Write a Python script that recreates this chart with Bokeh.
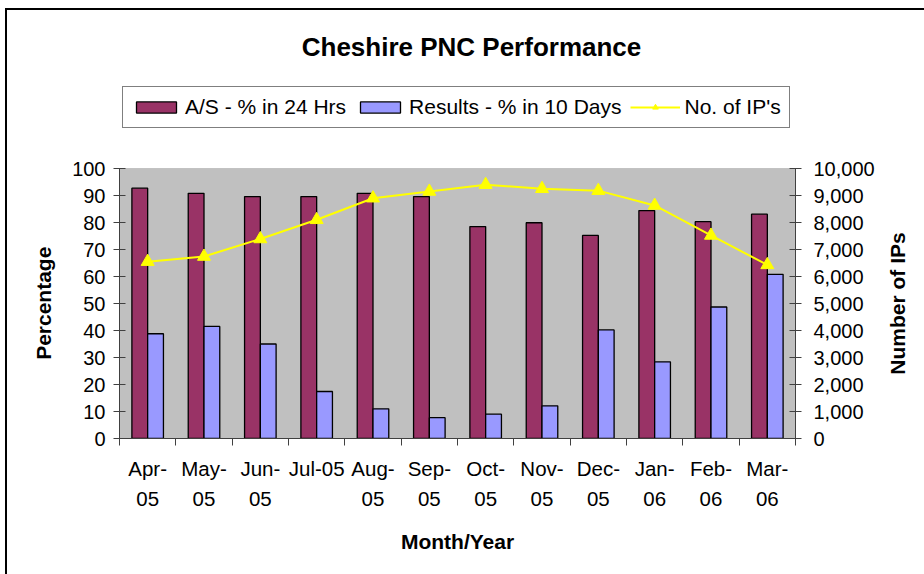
import math
import numpy as np
from bokeh.plotting import figure
from bokeh.layouts import row
from bokeh.models import (Range1d, LinearAxis, FixedTicker, NumeralTickFormatter,
                          Legend, LegendItem, Label, BoxAnnotation)
from bokeh.embed import file_html
from bokeh.resources import INLINE

# ---- data ----
months = ["Apr-\n05", "May-\n05", "Jun-\n05", "Jul-05", "Aug-\n05", "Sep-\n05",
          "Oct-\n05", "Nov-\n05", "Dec-\n05", "Jan-\n06", "Feb-\n06", "Mar-\n06"]
as_24hrs = [92.7, 90.8, 89.6, 89.6, 90.8, 89.6, 78.5, 79.9, 75.2, 84.4, 80.3, 83.1]
results_10days = [38.8, 41.5, 35.0, 17.4, 11.0, 7.7, 9.0, 12.1, 40.2, 28.4, 48.7, 60.8]
num_ips = [6550, 6740, 7390, 8100, 8900, 9150, 9400, 9250, 9180, 8630, 7520, 6430]
pct_ticks = [0, 10, 20, 30, 40, 50, 60, 70, 80, 90, 100]
ip_ticks = [0, 1000, 2000, 3000, 4000, 5000, 6000, 7000, 8000, 9000, 10000]

FONT = "Liberation Sans"
n = len(months)
xc = np.arange(n) + 0.5          # category centres
bw = 0.28

# the frame extends up to the top of the canvas so that the legend and title
# (drawn inside the frame) are not clipped; the grey plot area is 270 px tall
FRAME_H = 428
PLOT_H = 270
pct_max, ip_max = pct_ticks[-1], ip_ticks[-1]
scale = FRAME_H / PLOT_H
# padding (no-break spaces) that moves the rotated axis title down so that
# it is centred on the grey plot area rather than on the taller frame
PAD = "\u00a0" * 27

p = figure(frame_width=676, frame_height=FRAME_H,
           min_border_left=112, min_border_top=0,
           min_border_right=89, min_border_bottom=136,
           x_range=Range1d(0, n), y_range=Range1d(0, pct_max * scale),
           output_backend="svg", toolbar_location=None,
           background_fill_color="white",
           border_fill_color="white",
           outline_line_color=None)
p.title = None
p.xgrid.visible = False
p.ygrid.visible = False
p.extra_y_ranges = {"ips": Range1d(0, ip_max * scale)}

plot_area = BoxAnnotation(left=0, right=n, bottom=0, top=pct_max,
                          fill_color="#C0C0C0", fill_alpha=1,
                          line_color="#808080", line_width=1, level="underlay")
p.add_layout(plot_area)

r1 = p.vbar(x=xc - bw / 2, top=as_24hrs, width=bw, bottom=0,
            fill_color="#993366", line_color="black", line_width=1.3)
r2 = p.vbar(x=xc + bw / 2, top=results_10days, width=bw, bottom=0,
            fill_color="#9999FF", line_color="black", line_width=1.3)
r3 = p.line(x=xc, y=num_ips, y_range_name="ips", line_color="#FFFF00", line_width=2)
r4 = p.scatter(x=xc, y=num_ips, y_range_name="ips", marker="triangle", size=13,
               fill_color="#FFFF00", line_color="#FFFF00")

# x axis
xa = p.xaxis[0]
xa.ticker = FixedTicker(ticks=list(xc), minor_ticks=list(range(n + 1)))
xa.major_label_overrides = {float(x): m for x, m in zip(xc, months)}
xa.major_tick_line_color = None
xa.major_tick_out = 0
xa.major_tick_in = 0
xa.minor_tick_line_color = "#404040"
xa.minor_tick_out = 7
xa.minor_tick_in = 0
xa.axis_line_color = "#404040"
xa.major_label_standoff = 11
xa.major_label_text_font = FONT
xa.major_label_text_font_size = "20.5px"
xa.major_label_text_color = "black"
xa.major_label_text_line_height = 1.32
xa.axis_label = "Month/Year"
xa.axis_label_text_font = FONT
xa.axis_label_text_font_style = "bold"
xa.axis_label_text_font_size = "21px"
xa.axis_label_text_color = "black"
xa.axis_label_standoff = 17

# left y axis
ya = p.yaxis[0]
ya.ticker = FixedTicker(ticks=pct_ticks)
ya.bounds = (0, pct_max)
ya.major_tick_in = 6
ya.major_tick_out = 6
ya.minor_tick_line_color = None
ya.axis_line_color = "#404040"
ya.major_tick_line_color = "#404040"
ya.major_label_standoff = 8
ya.major_label_text_font = FONT
ya.major_label_text_font_size = "20px"
ya.major_label_text_color = "black"
ya.axis_label = "Percentage" + PAD
ya.axis_label_text_font = FONT
ya.axis_label_text_font_style = "bold"
ya.axis_label_text_font_size = "21px"
ya.axis_label_text_color = "black"
ya.axis_label_standoff = 14

# right y axis (its title is drawn in the narrow strip figure beside it)
ra = LinearAxis(y_range_name="ips", ticker=FixedTicker(ticks=ip_ticks),
                formatter=NumeralTickFormatter(format="0,0"), bounds=(0, ip_max))
ra.major_tick_in = 6
ra.major_tick_out = 6
ra.minor_tick_line_color = None
ra.axis_line_color = "#404040"
ra.major_tick_line_color = "#404040"
ra.major_label_standoff = 12
ra.major_label_text_font = FONT
ra.major_label_text_font_size = "20px"
ra.major_label_text_color = "black"
p.add_layout(ra, "right")

legend = Legend(items=[LegendItem(label="A/S - % in 24 Hrs", renderers=[r1]),
                       LegendItem(label="Results - % in 10 Days", renderers=[r2]),
                       LegendItem(label="No. of IP's", renderers=[r3, r4])],
                orientation="horizontal", location=(3, 310),
                glyph_width=50, glyph_height=14, label_standoff=4, spacing=9,
                padding=8, margin=0,
                label_text_font=FONT, label_text_font_size="21px",
                label_text_color="black",
                border_line_color="black", border_line_width=1,
                background_fill_color="white", background_fill_alpha=1)
p.add_layout(legend, "center")

title = Label(x=352, y=392, x_units="screen", y_units="screen",
              text="Cheshire PNC Performance", text_align="center",
              text_baseline="middle", text_font=FONT,
              text_font_style="bold", text_font_size="26px", text_color="black")
p.add_layout(title)

# narrow strip on the right carrying the secondary axis title
CANVAS_H = FRAME_H + 136
p2 = figure(frame_width=40, frame_height=CANVAS_H,
            min_border_left=0, min_border_right=0, min_border_top=0, min_border_bottom=0,
            x_axis_type=None, y_axis_type=None,
            output_backend="svg", toolbar_location=None,
            background_fill_color="white", border_fill_color="white",
            outline_line_color=None)
p2.title = None
p2.xgrid.visible = False
p2.ygrid.visible = False
ip_title = Label(x=13, y=CANVAS_H - 293, x_units="screen", y_units="screen",
                 text="Number of IPs", angle=math.pi / 2,
                 text_align="center", text_baseline="middle", text_font=FONT,
                 text_font_style="bold", text_font_size="21px", text_color="black")
p2.add_layout(ip_title)

layout = row(p, p2, spacing=0,
             styles={"border-left": "2px solid black", "border-top": "2px solid black",
                     "margin-left": "5px", "margin-top": "8px"})

open("out.html", "w").write(file_html(layout, INLINE))
